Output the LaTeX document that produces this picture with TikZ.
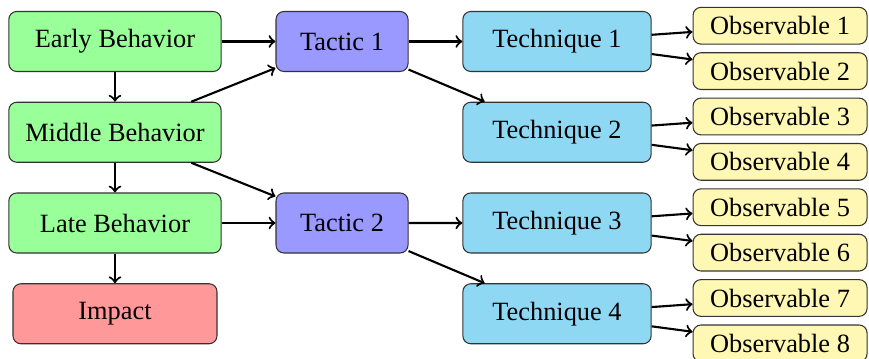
\documentclass[tikz,border=0pt]{standalone}
\usepackage{fontspec}
\setmainfont{Liberation Serif}
\definecolor{techblue}{RGB}{142,216,244}
\definecolor{obsyellow}{RGB}{255,248,180}

\begin{document}
\begin{tikzpicture}[
  box/.style={draw=black!80, rounded corners=3pt, minimum height=8mm},
  behavior/.style={box, fill=green!40, minimum width=28.3mm},
  tactic/.style={box, fill=blue!40, minimum width=17.6mm},
  technique/.style={box, fill=techblue, minimum width=25.1mm},
  observable/.style={box, fill=obsyellow, minimum width=23.2mm, minimum height=4.9mm, inner sep=0pt},
  link/.style={->, thick}
]
\useasboundingbox (-15.33mm,5.53mm) rectangle (100.53mm,-42.2mm);

\node[behavior] (early) at (0,0) {Early Behavior};
\node[behavior] (middle) at (0,-12.1mm) {Middle Behavior};
\node[behavior] (late) at (0,-24.2mm) {Late Behavior};
\node[box, fill=red!40, minimum width=27.2mm] (impact) at (0,-36.3mm) {Impact};

\node[tactic] (tactic1) at (30.27mm,0) {Tactic 1};
\node[tactic] (tactic2) at (30.27mm,-24.2mm) {Tactic 2};

\foreach \t [evaluate = \t as \ty using {-(\t-1) * 12.1}] in {1,2,3,4}{
  \node[technique] (tech\t) at (58.93mm,\ty mm) {Technique \t};
}
\foreach \o [evaluate = \o as \oy using {2.1 - (\o-1) * 6.05}] in {1,2,3,4,5,6,7,8}{
  \node[observable] (obs\o) at (88.67mm,\oy mm) {Observable \o};
}

% behavior chain
\draw[link] (early) -- (middle);
\draw[link] (middle) -- (late);
\draw[link] (late) -- (impact);

\draw[link] (early) -- (tactic1);
\draw[link] (middle) -- (tactic1);
\draw[link] (middle) -- (tactic2);
\draw[link] (late) -- (tactic2);

\draw[link] (tactic1) -- (tech1);
\draw[link] (tactic1) -- (tech2);
\draw[link] (tactic2) -- (tech3);
\draw[link] (tactic2) -- (tech4);

\foreach \o [evaluate = \o as \t using {int((\o+1)/2)}] in {1,2,3,4,5,6,7,8}{
  \draw[link] (tech\t) -- (obs\o);
}
\end{tikzpicture}
\end{document}
